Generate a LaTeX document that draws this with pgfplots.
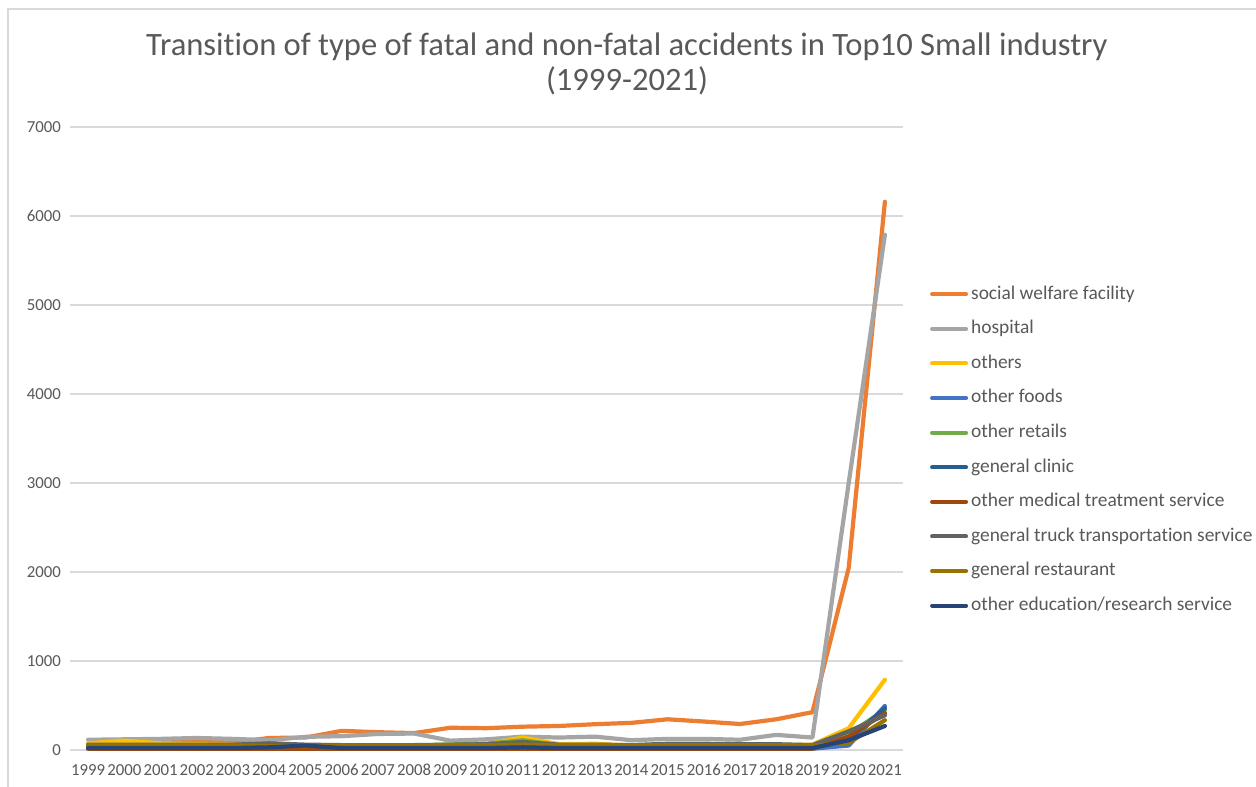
\documentclass[border=0pt]{standalone}
\usepackage{fontspec}
\setmainfont{Carlito}[Ligatures=NoCommon]
\usepackage{pgfplots}
\usepackage{pgfplotstable}
\pgfplotsset{compat=1.18}
\definecolor{cSW}{HTML}{ED7D31}
\definecolor{cHO}{HTML}{A5A5A5}
\definecolor{cOT}{HTML}{FFC000}
\definecolor{cFO}{HTML}{4472C4}
\definecolor{cRE}{HTML}{70AD47}
\definecolor{cCL}{HTML}{255E91}
\definecolor{cME}{HTML}{9E480E}
\definecolor{cTR}{HTML}{636363}
\definecolor{cRS}{HTML}{997300}
\definecolor{cED}{HTML}{264478}
\definecolor{grid}{HTML}{D9D9D9}
\definecolor{txt}{HTML}{595959}
\pgfplotstableread{
x  sw   hosp  oth  food  ret  clin  med  truck rest edu
0  60   115   75   15    45   30    15   60    50   22
1  75   120   105  15    45   30    15   60    50   22
2  85   125   75   15    45   30    15   60    50   22
3  90   135   65   15    45   30    15   60    50   22
4  85   125   60   15    45   30    15   60    50   22
5  135  110   55   15    45   30    15   75    45   30
6  140  148   50   15    45   30    15   60    45   50
7  215  155   50   15    45   30    15   55    50   22
8  200  180   45   15    45   30    15   55    50   22
9  190  185   50   15    50   30    15   55    50   22
10 250  105   60   15    60   30    15   60    55   22
11 245  120   65   15    70   30    15   65    55   22
12 262  150   140  15    110  35    15   90    60   30
13 270  140   65   15    55   30    15   60    55   22
14 290  150   70   15    55   30    15   60    55   22
15 305  110   50   15    50   30    15   55    50   22
16 345  125   65   15    55   30    15   70    55   22
17 320  125   60   15    55   30    15   70    55   22
18 292  115   60   15    55   30    15   65    55   22
19 345  170   55   15    55   30    15   65    55   22
20 425  140   60   15    55   30    15   55    50   22
21 2045 3000  245  50    180  120   150  210   80   110
22 6160 5790  790  495   450  470   415  390   335  270
}\datatable
\begin{document}
\begin{tikzpicture}[x=0.5pt,y=0.5pt]
\useasboundingbox (0,0) rectangle (1256,786);
\fill[white] (0,0) rectangle (1256,786);
\draw[color=grid, line width=0.9pt] (8,-20) -- (8,777) -- (1290,777);
\node[anchor=base, text=txt, font=\fontsize{16.3}{18}\selectfont] at (627,730) {Transition of type of fatal and non-fatal accidents in Top10 Small industry};
\node[anchor=base, text=txt, font=\fontsize{16.3}{18}\selectfont] at (627,695) {(1999-2021)};
\begin{axis}[
  at={(35pt,18pt)}, anchor=south west,
  width=416.5pt, height=311.5pt, scale only axis,
  xmin=-0.5, xmax=22.5, ymin=0, ymax=7000,
  xtick={0,...,22},
  xticklabels={1999,2000,2001,2002,2003,2004,2005,2006,2007,2008,2009,2010,2011,2012,2013,2014,2015,2016,2017,2018,2019,2020,2021},
  ytick={0,1000,...,7000},
  ymajorgrids, major grid style={color=grid, line width=0.75pt},
  axis line style={draw=none},
  major tick length=0pt,
  tick label style={text=txt, font=\fontsize{8.4}{10}\selectfont},
  /pgf/number format/assume math mode=true,
  /pgf/number format/1000 sep={},
  scaled y ticks=false,
  yticklabel style={xshift=-1pt},
  xticklabel style={yshift=-3pt, text height=6pt, text depth=0pt},
  every axis plot/.append style={line width=2.1pt, line join=round, line cap=round, mark=none},
  legend style={at={(1.032,0.745)}, anchor=north west, draw=none, fill=none,
    inner sep=0pt, row sep=9.3pt,
    nodes={inner sep=0pt, text height=6.4pt, text depth=1.6pt, text=txt, font=\fontsize{9.7}{10}\selectfont}},
  legend cell align=left,
  legend image code/.code={\draw[#1, line width=2pt, line cap=round] (0.5pt,0pt) -- (17.5pt,0pt); \path (19pt,0pt);},
]
\addplot[cSW] table[x=x,y=sw]{\datatable};
\addlegendentry{social welfare facility}
\addplot[cHO] table[x=x,y=hosp]{\datatable};
\addlegendentry{hospital}
\addplot[cOT] table[x=x,y=oth]{\datatable};
\addlegendentry{others}
\addplot[cFO] table[x=x,y=food]{\datatable};
\addlegendentry{other foods}
\addplot[cRE] table[x=x,y=ret]{\datatable};
\addlegendentry{other retails}
\addplot[cCL] table[x=x,y=clin]{\datatable};
\addlegendentry{general clinic}
\addplot[cME] table[x=x,y=med]{\datatable};
\addlegendentry{other medical treatment service}
\addplot[cTR] table[x=x,y=truck]{\datatable};
\addlegendentry{general truck transportation service}
\addplot[cRS] table[x=x,y=rest]{\datatable};
\addlegendentry{general restaurant}
\addplot[cED] table[x=x,y=edu]{\datatable};
\addlegendentry{other education/research service}
\end{axis}
\end{tikzpicture}
\end{document}
